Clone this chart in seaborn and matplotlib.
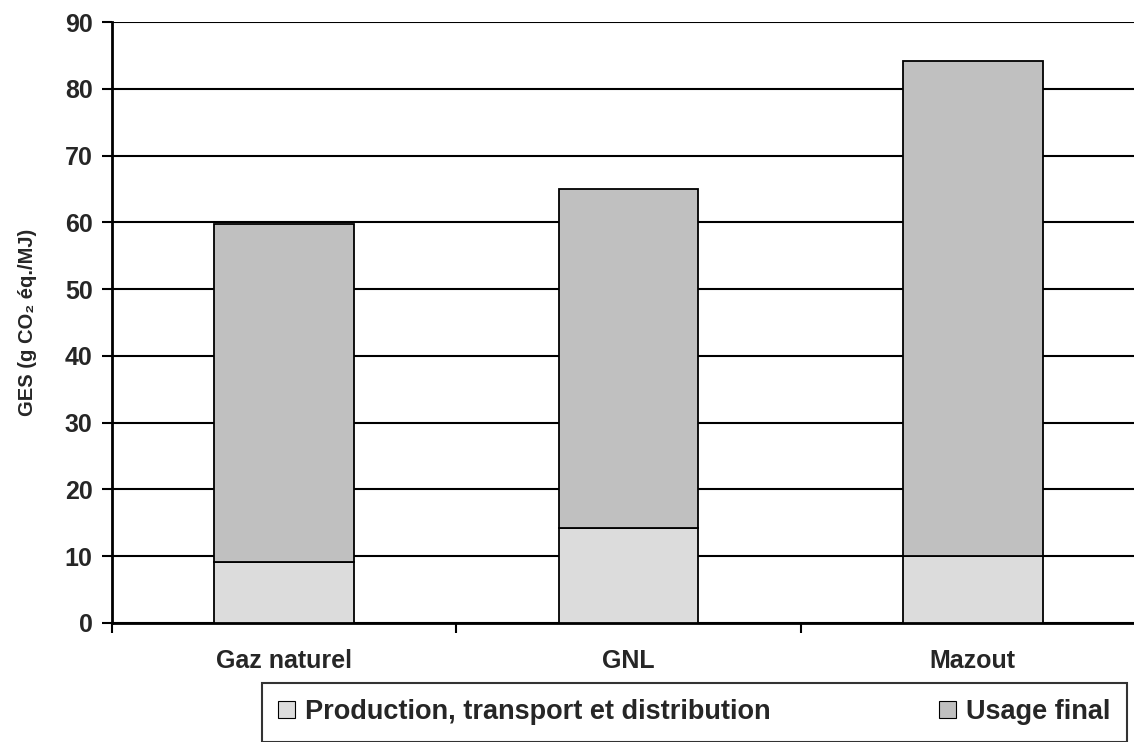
import matplotlib
matplotlib.use("Agg")
import matplotlib.pyplot as plt
from matplotlib.patches import Patch
import seaborn as sns
import pandas as pd

# Émissions de GES par filière (g CO2 éq./MJ)
categories = ["Gaz naturel", "GNL", "Mazout"]
production = [9.1, 14.2, 10.0]
usage_final = [50.7, 50.8, 74.1]
series_labels = ["Production, transport et distribution", "Usage final"]
y_ticks = [0, 10, 20, 30, 40, 50, 60, 70, 80, 90]

df = pd.DataFrame({"filiere": categories, "prod": production, "usage": usage_final})

sns.set_theme(style="white")
plt.rcParams["font.family"] = ["Liberation Sans", "DejaVu Sans"]

W, H = 1134, 742
fig = plt.figure(figsize=(W / 100, H / 100), dpi=100)
# the plotting area runs slightly past the right edge of the figure
ax = fig.add_axes([112 / W, 1 - 623 / H, (1145 - 112) / W, (623 - 22) / H])

col_prod = "#dcdcdc"
col_usage = "#c0c0c0"

sns.barplot(data=df, x="filiere", y="prod", color=col_prod, width=0.405,
            edgecolor="black", linewidth=1.3, saturation=1, ax=ax, zorder=3)
sns.barplot(data=df, x="filiere", y="usage", bottom=df["prod"], color=col_usage,
            width=0.405, edgecolor="black", linewidth=1.3, saturation=1, ax=ax, zorder=3)

ax.set_xlim(-0.5, 2.5)
ax.set_ylim(0, 90)
ax.set_yticks(y_ticks)
ax.set_yticklabels([str(t) for t in y_ticks], fontsize=18, fontweight="bold")
ax.yaxis.grid(True, color="black", linewidth=1.5, zorder=0)
ax.set_axisbelow(True)

ax.set_xticks(range(len(categories)))
ax.set_xticklabels(categories, fontsize=18, fontweight="bold")
ax.tick_params(axis="x", which="major", length=0, pad=19)
ax.set_xticks([-0.5, 0.5, 1.5, 2.5], minor=True)
ax.tick_params(axis="x", which="minor", length=7, width=1.5, color="black", direction="out", bottom=True)
ax.tick_params(axis="y", length=7, width=1.5, color="black", direction="out", left=True, pad=7)

ax.set_xlabel("")
ax.set_ylabel("GES (g CO₂ éq./MJ)", fontsize=14.5, fontweight="bold", labelpad=20)

for side in ["top", "right"]:
    ax.spines[side].set_visible(False)
for side in ["left", "bottom"]:
    ax.spines[side].set_color("black")
    ax.spines[side].set_linewidth(2)

handles = [Patch(facecolor=col_prod, edgecolor="black", linewidth=0.8),
           Patch(facecolor=col_usage, edgecolor="black", linewidth=0.8)]
leg_h = 0.01
leg = fig.legend(handles, series_labels, loc="upper left",
                 bbox_to_anchor=(262 / W, 1 - 683 / H - leg_h, (1127 - 262) / W, leg_h),
                 mode="expand", ncol=2,
                 frameon=True, fancybox=False, edgecolor="black",
                 prop={"weight": "bold", "size": 19.5},
                 handlelength=0.6, handleheight=0.6, handletextpad=0.4,
                 borderpad=0.6, borderaxespad=0)
leg.get_frame().set_linewidth(1.5)

fig.savefig("out.png", dpi=100)
